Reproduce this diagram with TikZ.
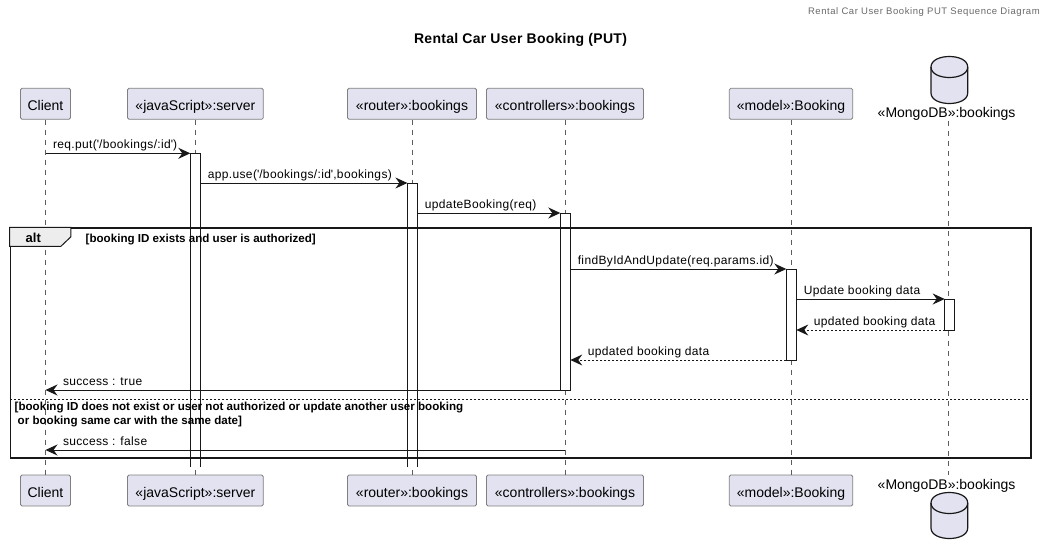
\documentclass[tikz,border=0pt]{standalone}
\usepackage{fontspec}
\setmainfont{Liberation Sans}
\newfontfamily\msgfont[LetterSpace=3]{Liberation Sans}
\newfontfamily\headfont[LetterSpace=6]{Liberation Sans}
\newfontfamily\titlefont[LetterSpace=2]{Liberation Sans}
\usetikzlibrary{arrows.meta, positioning}
\definecolor{partfill}{HTML}{E2E2F0}
\definecolor{inkdark}{HTML}{181818}
\newcommand{\sq}{\textquotesingle}

\tikzset{
	part/.style={draw=inkdark!55, line width=0.8pt, fill=partfill, rounded corners=1.5pt, minimum height=31pt, inner sep=0pt, text height=16pt, text depth=3pt, font=\fontsize{14}{16}\selectfont},
	life/.style={draw=inkdark!70, line width=0.6pt, dash pattern=on 5pt off 5pt},
	actbar/.style={fill=white, minimum width=10pt, inner sep=0pt, outer sep=0pt},
	actline/.style={draw=inkdark, line width=1pt},
	msg/.style={draw=inkdark, line width=1pt, -{Stealth[length=12pt, width=11pt, inset=4pt]}},
	reply/.style={msg, dash pattern=on 2pt off 2pt, -{Stealth[length=12pt, width=11pt, inset=4pt, line width=0pt]}},
	lblr/.style={anchor=base west, inner sep=0pt, xshift=7pt, yshift=4.5pt, font=\msgfont\fontsize{12}{14}\selectfont},
	lbll/.style={lblr, xshift=10pt},
	guard/.style={anchor=base west, inner sep=0pt, font=\bfseries\fontsize{11.6}{13}\selectfont},
	can/.style={draw=inkdark, line width=1.2pt, fill=partfill}
}

\begin{document}
\begin{tikzpicture}[x=1pt,y=-1pt]
\useasboundingbox (0,0) rectangle (1047,554);

\node[anchor=base east, inner sep=0pt, text=inkdark!65, font=\headfont\fontsize{9.5}{11}\selectfont] (hdr) at (1040,14) {Rental Car User Booking PUT Sequence Diagram};
\node[anchor=base, inner sep=0pt, font=\titlefont\bfseries\fontsize{14}{16}\selectfont] (title) at (520.5,43) {Rental Car User Booking (PUT)};

% participants, top row and bottom row
\node[part, minimum width=50pt] (clienttop) at (45.5,103.8) {Client};
\node[part, minimum width=135.8pt] (servertop) at (195.4,103.8) {«javaScript»:server};
\node[part, minimum width=129pt] (routertop) at (412,103.8) {«router»:bookings};
\node[part, minimum width=157pt] (ctrltop) at (565,103.8) {«controllers»:bookings};
\node[part, minimum width=123.4pt] (modeltop) at (791,103.8) {«model»:Booking};

\node[part, minimum width=50pt] (clientbot) at (45.5,490.5) {Client};
\node[part, minimum width=135.8pt] (serverbot) at (195.4,490.5) {«javaScript»:server};
\node[part, minimum width=129pt] (routerbot) at (412,490.5) {«router»:bookings};
\node[part, minimum width=157pt] (ctrlbot) at (565,490.5) {«controllers»:bookings};
\node[part, minimum width=123.4pt] (modelbot) at (791,490.5) {«model»:Booking};

% database on both rows
\draw[can] (931,67) .. controls (931,53) and (967.7,53) .. (967.7,67) -- (967.7,93) .. controls (967.7,107) and (931,107) .. (931,93) -- cycle;
\draw[can, fill=none] (931,67) .. controls (931,81) and (967.7,81) .. (967.7,67);
\draw[can] (931,503) .. controls (931,489) and (967.7,489) .. (967.7,503) -- (967.7,528) .. controls (967.7,542) and (931,542) .. (931,528) -- cycle;
\draw[can, fill=none] (931,503) .. controls (931,517) and (967.7,517) .. (967.7,503);
\node[inner sep=0pt, anchor=base, font=\fontsize{14}{16}\selectfont] (dbtoplbl) at (946.6,117.7) {«MongoDB»:bookings};
\node[inner sep=0pt, anchor=base, font=\fontsize{14}{16}\selectfont] (dbbotlbl) at (946.6,489.3) {«MongoDB»:bookings};
\coordinate (dbtop) at (948.5,120.5);
\coordinate (dbbot) at (948.5,475);

% lifelines
\draw[life] (clienttop) -- (clientbot);
\draw[life] (servertop) -- (serverbot);
\draw[life] (routertop) -- (routerbot);
\draw[life] (ctrltop) -- (ctrlbot);
\draw[life] (modeltop) -- (modelbot);
\draw[life] (dbtop) -- (dbbot);

% activation bars
\node[actbar, minimum height=313.7pt] (serverbar) at (195.3,310.15) {};
\node[actbar, minimum height=284pt] (routerbar) at (412.4,325) {};
\node[actbar, minimum height=177pt] (ctrlbar) at (565.3,301.5) {};
\node[actbar, minimum height=91pt] (modelbar) at (791.3,314.5) {};
\node[actbar, minimum height=31pt] (dbbar) at (949.7,314.5) {};
\draw[actline] (serverbar.south west) |- (serverbar.north east) -- (serverbar.south east);
\draw[actline] (routerbar.south west) |- (routerbar.north east) -- (routerbar.south east);
\draw[actline] (ctrlbar.south west) rectangle (ctrlbar.north east);
\draw[actline] (modelbar.south west) rectangle (modelbar.north east);
\draw[actline] (dbbar.south west) rectangle (dbbar.north east);

% alt frame
\node[draw=inkdark, line width=1.5pt, minimum width=1020.7pt, minimum height=230pt, inner sep=0pt] (altframe) at (520.65,343) {};
\draw[draw=inkdark, line width=1pt, fill=black!7] (altframe.north west) -- ++(61.4,0) -- ++(0,9.5) -- ++(-10,9.5) -- ++(-51.4,0) -- cycle;
\node[anchor=base, inner sep=0pt, font=\bfseries\fontsize{13}{15}\selectfont] (altlbl) at (33.3,242.7) {alt};
\node[guard] (guardone) at (85.5,242) {[booking ID exists and user is authorized]};
\node[guard] (guardtwoa) at (14.5,410.7) {[booking ID does not exist or user not authorized or update another user booking};
\node[guard] (guardtwob) at (17.5,424.5) {or booking same car with the same date]};
\coordinate (sepl) at (10.3,399);
\coordinate (sepr) at (1031,399);
\draw[draw=inkdark, line width=0.7pt, dash pattern=on 2pt off 2pt] (sepl) -- (sepr);

% messages
\coordinate (clienta) at (45.5,153.3);
\coordinate (clientb) at (45.5,390);
\coordinate (clientc) at (45.5,450);
\coordinate (ctrlc) at (565,450);
\coordinate (modelb) at (786.3,360);
\coordinate (ctrlb) at (570.3,360);
\coordinate (ctrla) at (570.3,269);
\coordinate (servera) at (200.3,183);
\coordinate (routera) at (417.4,213);
\coordinate (modela) at (796.3,299);

\draw[msg] (clienta) -- (serverbar.north west) node[lblr, pos=0] (m1) {req.put(\sq/bookings/:id\sq)};
\draw[msg] (servera) -- (routerbar.north west) node[lblr, pos=0] (m2) {app.use(\sq/bookings/:id\sq,bookings)};
\draw[msg] (routera) -- (ctrlbar.north west) node[lblr, pos=0] (m3) {updateBooking(req)};
\draw[msg] (ctrla) -- (modelbar.north west) node[lblr, pos=0] (m4) {findByIdAndUpdate(req.params.id)};
\draw[msg] (modela) -- (dbbar.north west) node[lblr, pos=0] (m5) {Update booking data};
\draw[reply] (dbbar.south west) -- (modelbar.east |- dbbar.south) node[lbll, pos=1] (m6) {updated booking data};
\draw[reply] (modelb) -- (ctrlb) node[lbll, pos=1] (m7) {updated booking data};
\draw[msg] (ctrlbar.south west) -- (clientb) node[lbll, pos=1] (m8) {success : true};
\draw[msg] (ctrlc) -- (clientc) node[lbll, pos=1] (m9) {success : false};
\end{tikzpicture}
\end{document}
